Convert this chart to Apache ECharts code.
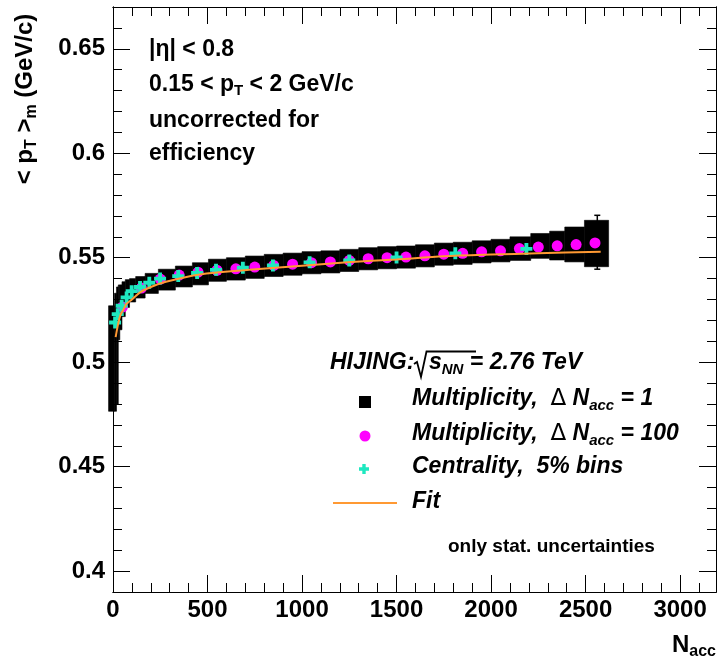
<!DOCTYPE html>
<html>
<head>
  <meta charset="utf-8">
  <title>mean pT vs Nacc (HIJING)</title>
  <script src="https://cdn.jsdelivr.net/npm/echarts@6/dist/echarts.min.js"></script>
</head>
<style>
  html, body, #main {
    margin: 0;
    padding: 0;
    width: 717px;
    height: 662px;
    background: #fff;
  }
</style>
<body>
<div id="main"></div>
<script>
  // Multiplicity, dN_acc = 1 : envelope of the dense black points
  var blackN  = [3, 13, 24, 32, 40, 55, 75, 100, 140, 200, 280, 380, 460, 550, 650, 750, 850, 950, 1050, 1150, 1250, 1350, 1450, 1550, 1650, 1750, 1850, 1950, 2050, 2150, 2270, 2350, 2430, 2558];
  var blackLo = [0.4765, 0.4765, 0.480, 0.5107, 0.5155, 0.5218, 0.5262, 0.5288, 0.5307, 0.5329, 0.5345, 0.5360, 0.5370, 0.5387, 0.5393, 0.5401, 0.5410, 0.5416, 0.5423, 0.5427, 0.5434, 0.5442, 0.5447, 0.5450, 0.5456, 0.5464, 0.5468, 0.5475, 0.5480, 0.5487, 0.5497, 0.5489, 0.5480, 0.5457];
  var blackHi = [0.527, 0.533, 0.536, 0.537, 0.537, 0.5385, 0.5395, 0.540, 0.541, 0.5425, 0.5445, 0.546, 0.5476, 0.5493, 0.5500, 0.5508, 0.5516, 0.5522, 0.5529, 0.5533, 0.5540, 0.5548, 0.5553, 0.5556, 0.5562, 0.5570, 0.5574, 0.5581, 0.5588, 0.5600, 0.5616, 0.5627, 0.5647, 0.5679];
  // largest stat. error bar at the last points
  var errN  = [2562];
  var errLo = [0.5445];
  var errHi = [0.5703];

  // Multiplicity, dN_acc = 100
  var circN = [50, 150, 250, 350, 450, 550, 650, 750, 850, 950, 1050, 1150, 1250, 1350, 1450, 1550, 1650, 1750, 1850, 1950, 2050, 2150, 2250, 2350, 2450, 2550];
  var circV = [0.5264, 0.5355, 0.5398, 0.5417, 0.5431, 0.5440, 0.5447, 0.5455, 0.5463, 0.5469, 0.5476, 0.5480, 0.5487, 0.5495, 0.5500, 0.5503, 0.5509, 0.5517, 0.5521, 0.5528, 0.5533, 0.5544, 0.5551, 0.5557, 0.5563, 0.5571];

  // Centrality, 5% bins
  var centN = [11, 25, 46, 72, 99, 143, 192, 249, 345, 445, 545, 687, 846, 1040, 1250, 1500, 1811, 2187];
  var centV = [0.519, 0.523, 0.527, 0.531, 0.534, 0.536, 0.538, 0.540, 0.5412, 0.5427, 0.5442, 0.5452, 0.5463, 0.5478, 0.5487, 0.5501, 0.5521, 0.5542];

  // Fit
  var fitN = [14, 28, 40, 55, 72, 100, 145, 200, 280, 460, 720, 1000, 1240, 1500, 1750, 2000, 2250, 2580];
  var fitV = [0.512, 0.5187, 0.5228, 0.5252, 0.5280, 0.5300, 0.5335, 0.5360, 0.5385, 0.5420, 0.5442, 0.5462, 0.5478, 0.5492, 0.5507, 0.5515, 0.5521, 0.5529];

  // ticks
  var xMajor = [0, 500, 1000, 1500, 2000, 2500, 3000];
  var xMinor = [100, 200, 300, 400, 600, 700, 800, 900, 1100, 1200, 1300, 1400, 1600, 1700, 1800, 1900, 2100, 2200, 2300, 2400, 2600, 2700, 2800, 2900, 3100];
  var yMajor = [0.4, 0.45, 0.5, 0.55, 0.6, 0.65];
  var yMinor = [0.39, 0.41, 0.42, 0.43, 0.44, 0.46, 0.47, 0.48, 0.49, 0.51, 0.52, 0.53, 0.54, 0.56, 0.57, 0.58, 0.59, 0.61, 0.62, 0.63, 0.64, 0.66, 0.67];

  var FONT = '"Liberation Sans", Arial, Helvetica, sans-serif';
  var xMin = 0, xMax = 3190, yMin = 0.39, yMax = 0.67;

  function xAxis(pos, values, len, withLabel) {
    return {
      type: 'value', position: pos, min: xMin, max: xMax,
      axisLine: { show: true, onZero: false, lineStyle: { color: '#000', width: 1 } },
      axisTick: { show: true, inside: true, length: len, customValues: values, lineStyle: { color: '#000', width: 1 } },
      axisLabel: {
        show: withLabel, customValues: values, margin: 6,
        fontSize: 24, fontWeight: 'bold', fontFamily: FONT, color: '#000',
        formatter: function (v) { return String(v); }
      },
      splitLine: { show: false }
    };
  }
  function yAxis(pos, values, len, withLabel) {
    return {
      type: 'value', position: pos, min: yMin, max: yMax,
      axisLine: { show: true, onZero: false, lineStyle: { color: '#000', width: 1 } },
      axisTick: { show: true, inside: true, length: len, customValues: values, lineStyle: { color: '#000', width: 1 } },
      axisLabel: {
        show: withLabel, customValues: values, margin: 8,
        fontSize: 24, fontWeight: 'bold', fontFamily: FONT, color: '#000',
        formatter: function (v) { return String(+v.toFixed(2)); }
      },
      splitLine: { show: false }
    };
  }

  function plus(cx, cy, s, t) {
    var a = s / 2, b = t / 2;
    return [[cx - b, cy - a], [cx + b, cy - a], [cx + b, cy - b], [cx + a, cy - b], [cx + a, cy + b], [cx + b, cy + b],
            [cx + b, cy + a], [cx - b, cy + a], [cx - b, cy + b], [cx - a, cy + b], [cx - a, cy - b], [cx - b, cy - b]];
  }

  var rich = {
    b: { fontSize: 23, fontWeight: 'bold', fontFamily: FONT, fill: '#000' },
    bs: { fontSize: 15, fontWeight: 'bold', fontFamily: FONT, fill: '#000', padding: [12, 0, 0, 0] },
    bi: { fontSize: 23, fontWeight: 'bold', fontStyle: 'italic', fontFamily: FONT, fill: '#000' },
    bis: { fontSize: 15, fontWeight: 'bold', fontStyle: 'italic', fontFamily: FONT, fill: '#000', padding: [13, 0, 0, 0] },
    sym: { fontSize: 23, fontWeight: 'normal', fontFamily: '"DejaVu Sans", sans-serif', fill: '#000' },
    t: { fontSize: 24, fontWeight: 'bold', fontFamily: FONT, fill: '#000' },
    ts: { fontSize: 16, fontWeight: 'bold', fontFamily: FONT, fill: '#000', padding: [14, 0, 0, 0] }
  };
  function txt(x, y, text, align) {
    return { type: 'text', x: x, y: y, z: 10,
      style: { text: text, rich: rich, align: align || 'left', verticalAlign: 'middle' } };
  }

  var chart = echarts.init(document.getElementById('main'), null, { renderer: 'canvas' });
  chart.setOption({
    animation: false,
    backgroundColor: '#fff',
    grid: { left: 113, right: 1, top: 7, bottom: 70, containLabel: false },
    xAxis: [
      xAxis('bottom', xMajor, 17, true),
      xAxis('bottom', xMinor, 9, false),
      xAxis('top', xMajor, 17, false),
      xAxis('top', xMinor, 9, false)
    ],
    yAxis: [
      yAxis('left', yMajor, 17, true),
      yAxis('left', yMinor, 9, false),
      yAxis('right', yMajor, 17, false),
      yAxis('right', yMinor, 9, false)
    ],
    series: [{
      type: 'custom',
      name: 'Multiplicity, dN=1',
      z: 2,
      clip: false,
      data: blackN.map(function (n, i) { return [n, blackLo[i], blackHi[i]]; }),
      encode: { x: 0, y: [1, 2] },
      renderItem: function (params, api) {
        var i = params.dataIndex;
        var n = api.value(0);
        var lo = api.coord([n, api.value(1)]);
        var hi = api.coord([n, api.value(2)]);
        var xl, xr;
        if (i === 0) xl = lo[0] - 5;
        else xl = api.coord([(blackN[i - 1] + n) / 2, 0.5])[0];
        if (i === blackN.length - 1) xr = api.coord([n + (n - blackN[i - 1]) / 2, 0.5])[0];
        else xr = api.coord([(blackN[i + 1] + n) / 2, 0.5])[0];
        return {
          type: 'rect',
          shape: { x: xl, y: hi[1], width: xr - xl, height: lo[1] - hi[1] },
          style: { fill: '#000', stroke: '#000', lineWidth: 0.6 }
        };
      }
    }, {
      type: 'custom',
      name: 'error',
      z: 2,
      clip: false,
      data: errN.map(function (n, i) { return [n, errLo[i], errHi[i]]; }),
      encode: { x: 0, y: [1, 2] },
      renderItem: function (params, api) {
        var a = api.coord([api.value(0), api.value(1)]);
        var b = api.coord([api.value(0), api.value(2)]);
        var st = { stroke: '#000', lineWidth: 1.5 };
        return { type: 'group', children: [
          { type: 'line', shape: { x1: a[0], y1: a[1], x2: b[0], y2: b[1] }, style: st },
          { type: 'line', shape: { x1: b[0] - 3, y1: b[1], x2: b[0] + 3, y2: b[1] }, style: st },
          { type: 'line', shape: { x1: a[0] - 3, y1: a[1], x2: a[0] + 3, y2: a[1] }, style: st }
        ] };
      }
    }, {
      type: 'scatter',
      name: 'Multiplicity, dN=100',
      z: 3,
      symbol: 'circle',
      symbolSize: 11,
      itemStyle: { color: '#ff00ff', opacity: 1 },
      data: circN.map(function (n, i) { return [n, circV[i]]; })
    }, {
      type: 'scatter',
      name: 'Centrality',
      z: 4,
      symbol: 'path://M3.4,0H6.6V3.4H10V6.6H6.6V10H3.4V6.6H0V3.4H3.4Z',
      symbolSize: 12,
      itemStyle: { color: '#1ee8c0', opacity: 1 },
      data: centN.map(function (n, i) { return [n, centV[i]]; })
    }, {
      type: 'line',
      name: 'Fit',
      z: 5,
      showSymbol: false,
      smooth: 0.3,
      lineStyle: { color: '#ff9933', width: 2 },
      data: fitN.map(function (n, i) { return [n, fitV[i]]; })
    }],
    graphic: [
      // y axis title
      { type: 'text', x: 25, y: 99, rotation: Math.PI / 2, z: 10,
        style: { text: '{t|< p}{ts|T}{t| >}{ts|m}{t| (GeV/c)}', rich: rich, align: 'center', verticalAlign: 'middle' } },
      // x axis title
      txt(716, 645, '{t|N}{ts|acc}', 'right'),
      // cuts
      txt(149, 50, '{b||η| < 0.8}'),
      txt(149, 85, '{b|0.15 < p}{bs|T}{b| < 2 GeV/c}'),
      txt(149, 121, '{b|uncorrected for}'),
      txt(149, 154, '{b|efficiency}'),
      // legend header
      txt(330, 363, '{bi|HIJING:}'),
      { type: 'polyline', z: 10, shape: { points: [[414, 364], [417, 362], [421, 377], [426.5, 351.5], [476, 351.5]] },
        style: { stroke: '#000', lineWidth: 1.8, fill: null } },
      txt(429, 363, '{bi|s}{bis|NN}{bi| = 2.76 TeV}'),
      // legend entries
      { type: 'rect', z: 10, shape: { x: 359, y: 396, width: 12, height: 12 }, style: { fill: '#000' } },
      txt(412, 399, '{bi|Multiplicity,  }{sym|Δ}{bi| N}{bis|acc}{bi| = 1}'),
      { type: 'circle', z: 10, shape: { cx: 365, cy: 436, r: 5.5 }, style: { fill: '#ff00ff' } },
      txt(412, 434, '{bi|Multiplicity,  }{sym|Δ}{bi| N}{bis|acc}{bi| = 100}'),
      { type: 'polygon', z: 10, shape: { points: plus(364, 469, 10, 3.4) }, style: { fill: '#1ee8c0' } },
      txt(412, 467, '{bi|Centrality,  5% bins}'),
      { type: 'line', z: 10, shape: { x1: 333, y1: 503, x2: 397, y2: 503 }, style: { stroke: '#ff9933', lineWidth: 2 } },
      txt(412, 502, '{bi|Fit}'),
      { type: 'text', x: 448, y: 547, z: 10,
        style: { text: 'only stat. uncertainties', fontSize: 19, fontWeight: 'bold', fontFamily: FONT, fill: '#000', verticalAlign: 'middle' } }
    ]
  });
</script>
</body>
</html>
